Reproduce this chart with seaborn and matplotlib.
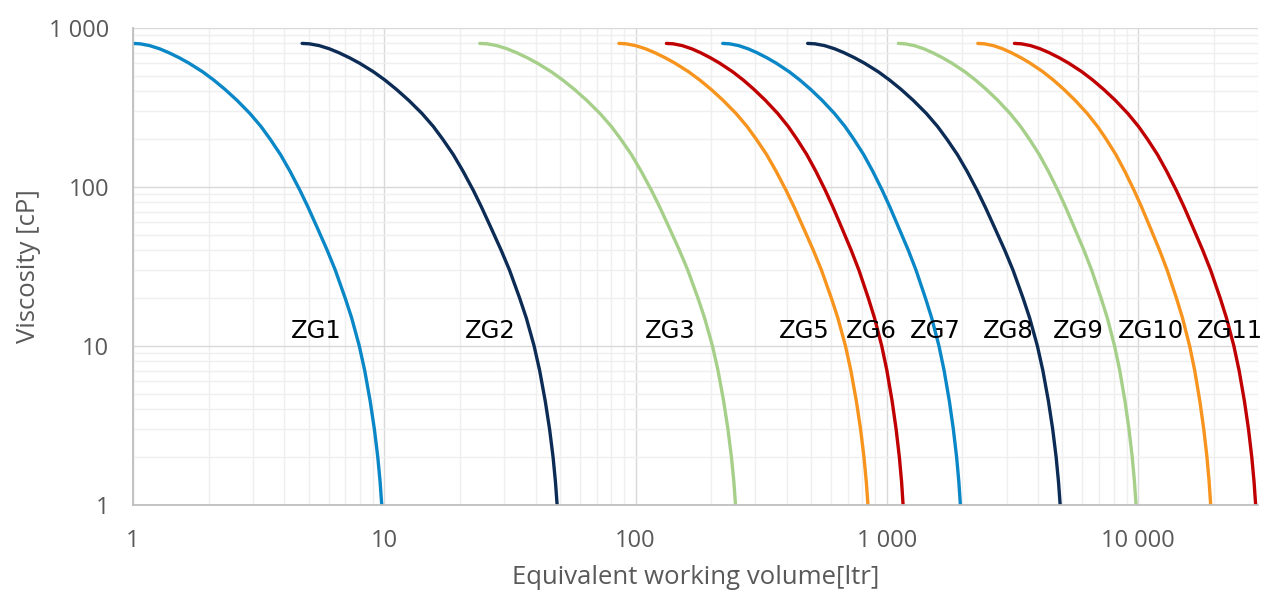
import pandas as pd
import seaborn as sns
import matplotlib.pyplot as plt
from matplotlib.ticker import FixedLocator, LogLocator, NullFormatter

# viscosity levels [cP] and equivalent working volume [ltr] of each pump at those levels
viscosity = [1, 1.4, 2, 3, 4.5, 7, 10, 15, 20, 30, 40, 55, 75, 95, 125, 160, 200, 240, 290, 350,
             410, 470, 530, 600, 650, 700, 740, 775, 795, 800]

zg1 = [9.772, 9.625, 9.423, 9.133, 8.788, 8.360, 7.954, 7.418, 6.990, 6.384, 5.927, 5.423, 4.966, 4.622,
       4.223, 3.863, 3.514, 3.232, 2.919, 2.598, 2.328, 2.098, 1.894, 1.673, 1.527, 1.387, 1.276, 1.164,
       1.069, 1.0]
zg2 = [48.75, 48.00, 46.97, 45.49, 43.72, 41.54, 39.48, 36.75, 34.58, 31.51, 29.19, 26.65, 24.35, 22.63,
       20.62, 18.82, 17.08, 15.68, 14.13, 12.53, 11.20, 10.07, 9.064, 7.984, 7.268, 6.586, 6.045, 5.506,
       5.043, 4.710]
zg3 = [250.0, 246.2, 240.8, 233.2, 224.2, 213.0, 202.4, 188.3, 177.2, 161.4, 149.5, 136.5, 124.7, 115.8,
       105.5, 96.27, 87.34, 80.15, 72.19, 64.02, 57.20, 51.39, 46.25, 40.73, 37.06, 33.57, 30.81, 28.05,
       25.69, 23.99]
zg5 = [841.4, 828.7, 811.2, 786.3, 756.5, 719.6, 684.7, 638.6, 601.6, 549.4, 510.0, 466.6, 427.3, 397.7,
       363.2, 332.3, 302.2, 278.0, 251.1, 223.4, 200.2, 180.4, 162.8, 143.8, 131.2, 119.2, 109.6, 100.0,
       91.83, 85.90]
zg6 = [1161, 1145, 1122, 1089, 1050, 1001, 954.8, 893.5, 844.3, 774.5, 721.6, 663.1, 609.8, 569.6,
       522.8, 480.2, 438.8, 405.3, 367.9, 329.2, 296.6, 268.7, 243.7, 216.6, 198.5, 181.2, 167.3, 153.4,
       141.4, 132.7]
zg7 = [1963, 1935, 1896, 1840, 1774, 1691, 1613, 1509, 1425, 1307, 1218, 1118, 1028, 959.8,
       880.6, 808.7, 738.8, 682.0, 618.9, 553.6, 498.5, 451.3, 409.3, 363.6, 333.1, 303.9, 280.5, 257.2,
       237.0, 222.3]
zg8 = [4898, 4823, 4720, 4573, 4398, 4180, 3975, 3703, 3486, 3179, 2948, 2693, 2463, 2290,
       2090, 1909, 1734, 1593, 1437, 1276, 1142, 1027, 925.8, 816.4, 743.9, 674.7, 619.9, 565.1,
       518.2, 484.2]
zg9 = [9816, 9676, 9481, 9200, 8870, 8456, 8065, 7545, 7125, 6535, 6090, 5590, 5140, 4799,
       4403, 4044, 3694, 3410, 3095, 2768, 2493, 2257, 2047, 1818, 1666, 1520, 1403, 1286,
       1185, 1112]
zg10 = [19453, 19178, 18802, 18260, 17612, 16808, 16044, 15028, 14213, 13055, 12179, 11207, 10321, 9649,
        8868, 8156, 7466, 6902, 6276, 5626, 5077, 4606, 4185, 3727, 3421, 3125, 2891, 2654,
        2450, 2302]
zg11 = [29376, 28946, 28353, 27510, 26504, 25247, 24060, 22485, 21228, 19440, 18088, 16592, 15237, 14210,
        13019, 11943, 10897, 10046, 9103, 8130, 7310, 6607, 5983, 5306, 4855, 4423, 4078, 3733,
        3436, 3221]

models = ['ZG1', 'ZG2', 'ZG3', 'ZG5', 'ZG6', 'ZG7', 'ZG8', 'ZG9', 'ZG10', 'ZG11']
volumes = [zg1, zg2, zg3, zg5, zg6, zg7, zg8, zg9, zg10, zg11]
colours = ['#0a87c6', '#0c2c56', '#a6d08a', '#f7941e', '#c00000',
           '#0a87c6', '#0c2c56', '#a6d08a', '#f7941e', '#c00000']

# where the model names sit (centre of text, data coords)
label_x = [5.38, 26.4, 137, 470, 867, 1563, 3035, 5797, 11220, 23110]
label_y = 12.4

x_ticks = [1, 10, 100, 1000, 10000]
x_ticklabels = ['1', '10', '100', '1 000', '10 000']
y_ticks = [1, 10, 100, 1000]
y_ticklabels = ['1', '10', '100', '1 000']

rows = []
for name, vols in zip(models, volumes):
    for v, mu in zip(vols, viscosity):
        rows.append({'model': name, 'volume': v, 'viscosity': mu})
df = pd.DataFrame(rows)

sns.set_theme(style='white')
plt.rcParams['font.family'] = ['Open Sans', 'DejaVu Sans']

fig, ax = plt.subplots(figsize=(12.74, 5.92), dpi=100)
fig.subplots_adjust(left=0.1044, right=0.9874, top=0.9527, bottom=0.147)

sns.lineplot(data=df, x='volume', y='viscosity', hue='model', palette=dict(zip(models, colours)),
             sort=False, estimator=None, linewidth=2.4, legend=False, ax=ax)

ax.set_xscale('log')
ax.set_yscale('log')
ax.set_xlim(1, 30000)
ax.set_ylim(1, 1000)

ax.xaxis.set_major_locator(FixedLocator(x_ticks))
ax.set_xticklabels(x_ticklabels)
ax.yaxis.set_major_locator(FixedLocator(y_ticks))
ax.set_yticklabels(y_ticklabels)
ax.xaxis.set_minor_locator(LogLocator(base=10, subs=range(2, 10), numticks=20))
ax.yaxis.set_minor_locator(LogLocator(base=10, subs=range(2, 10), numticks=20))
ax.xaxis.set_minor_formatter(NullFormatter())
ax.yaxis.set_minor_formatter(NullFormatter())

ax.grid(which='minor', color='#efefef', linewidth=1.0)
ax.grid(which='major', color='#d9d9d9', linewidth=1.0)
ax.set_axisbelow(True)

ax.tick_params(which='both', length=0, labelsize=17, labelcolor='#595959')
ax.tick_params(axis='x', pad=17)
ax.tick_params(axis='y', pad=17)

for side in ['top', 'right']:
    ax.spines[side].set_visible(False)
for side in ['left', 'bottom']:
    ax.spines[side].set_color('#bfbfbf')
    ax.spines[side].set_linewidth(1.3)

ax.set_xlabel('Equivalent working volume[ltr]', fontsize=18.5, color='#595959', labelpad=9)
ax.set_ylabel('Viscosity [cP]', fontsize=18.5, color='#595959', labelpad=6)

for name, lx in zip(models, label_x):
    ax.text(lx, label_y, name, ha='center', va='center', fontsize=17.5, color='#000000',
            family='DejaVu Sans')

fig.savefig('out.png', dpi=100)
